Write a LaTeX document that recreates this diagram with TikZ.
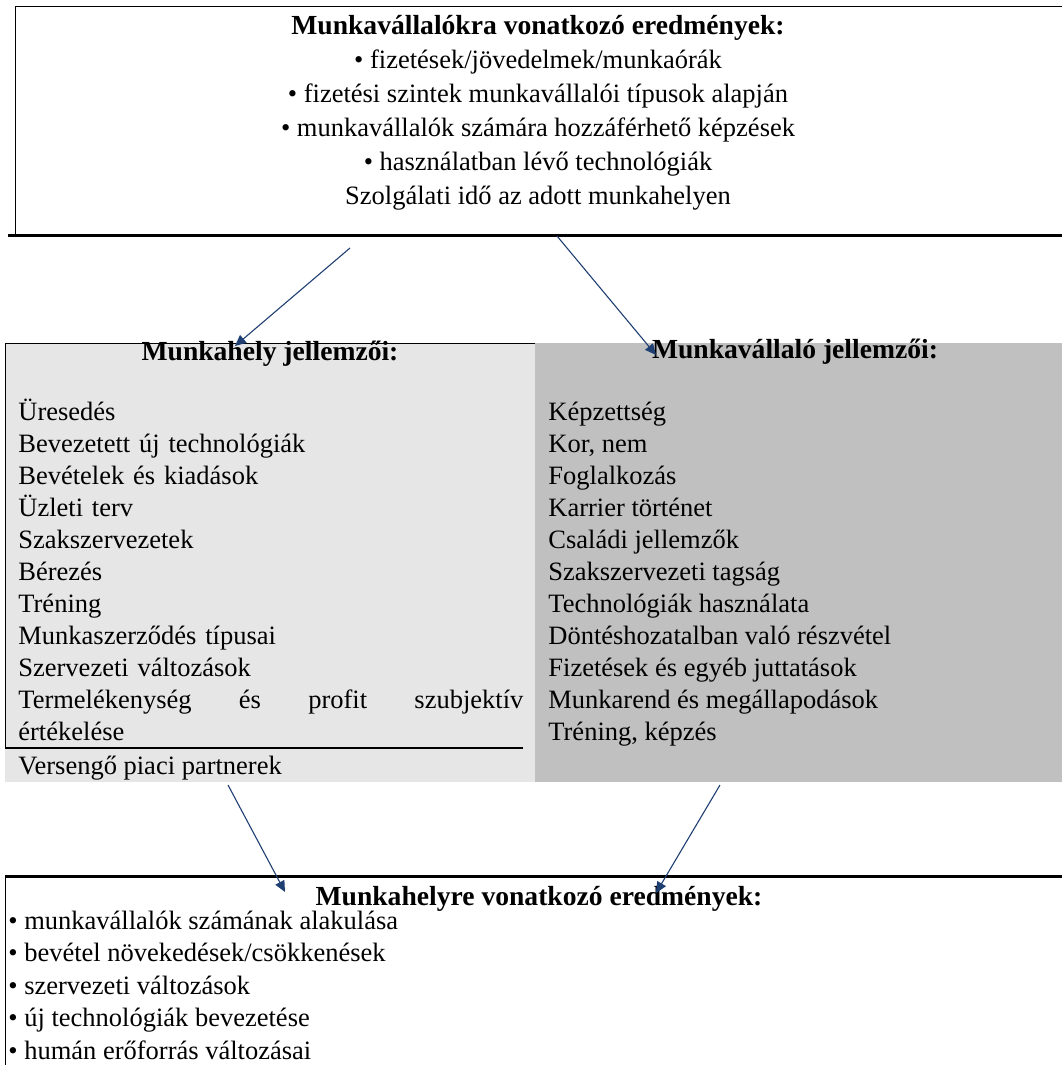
\documentclass[tikz,border=0pt]{standalone}
\usepackage{fontspec}
\setmainfont{Liberation Serif}
\usetikzlibrary{arrows.meta}
\definecolor{arrowblue}{HTML}{1F3F73}
\definecolor{lightbox}{HTML}{E6E6E6}
\definecolor{darkbox}{HTML}{C0C0C0}
\tikzset{
    txt/.style={inner sep=0pt,font=\fontsize{13.25}{16}\selectfont},
    head/.style={txt,font=\fontsize{13.8}{16}\selectfont\bfseries},
    link/.style={arrowblue,line width=0.55pt,-{Triangle[length=5.5pt,width=5pt]}},
}
\begin{document}
\begin{tikzpicture}[x=0.5pt,y=-0.5pt]
    \useasboundingbox (0,0) rectangle (1062,1065);
    \fill[lightbox] (5,343) rectangle (535,782);
    \fill[darkbox] (535,343) rectangle (1062,782);
    \draw[line width=0.5pt] (15,235) -- (15,7) -- (1062,7);
    \draw[line width=1.5pt] (8,235) -- (1062,235);
    \draw[line width=0.5pt] (5,748) -- (5,343) -- (535,343);
    \draw[line width=1pt] (5,748) -- (523,748);
    \draw[line width=1.5pt] (5,876) -- (1062,876);
    \draw[line width=0.5pt] (5,876) -- (5,1065);
    \node[head,anchor=base] (munkavallalok) at (538,35) {Munkavállalókra vonatkozó eredmények:};
    \node[txt,align=center,anchor=base,font=\fontsize{13.25}{17}\selectfont] (munkavallalokl) at (538,204)
        {• fizetések/jövedelmek/munkaórák\\
         • fizetési szintek munkavállalói típusok alapján\\
         • munkavállalók számára hozzáférhető képzések\\
         • használatban lévő technológiák\\
         Szolgálati idő az adott munkahelyen};
    \node[head,anchor=base] (munkahely) at (270,360) {Munkahely jellemzői:};
    \node[txt,anchor=base west,text width=252.5pt,align=left] (munkahelyl) at (18,420)
        {Üresedés\\
         Bevezetett új technológiák\\
         Bevételek és kiadások\\
         Üzleti terv\\
         Szakszervezetek\\
         Bérezés\\
         Tréning\\
         Munkaszerződés típusai\\
         Szervezeti változások\\
         Termelékenység\hfill és\hfill profit\hfill szubjektív\\
         értékelése};
    \node[txt,anchor=base west] (versengo) at (18,774) {Versengő piaci partnerek};
    \node[head,anchor=base] (munkavallalo) at (795,358) {Munkavállaló jellemzői:};
    \node[txt,anchor=base west,align=left] (munkavallalol) at (548,740)
        {Képzettség\\
         Kor, nem\\
         Foglalkozás\\
         Karrier történet\\
         Családi jellemzők\\
         Szakszervezeti tagság\\
         Technológiák használata\\
         Döntéshozatalban való részvétel\\
         Fizetések és egyéb juttatások\\
         Munkarend és megállapodások\\
         Tréning, képzés};
    \node[head,anchor=base] (munkahelyre) at (539,905) {Munkahelyre vonatkozó eredmények:};
    \node[txt,anchor=base west,align=left,font=\fontsize{13.25}{16.25}\selectfont] (munkahelyrel) at (8,1059)
        {• munkavállalók számának alakulása\\
         • bevétel növekedések/csökkenések\\
         • szervezeti változások\\
         • új technológiák bevezetése\\
         • humán erőforrás változásai};
    \coordinate (a1s) at (350,248);
    \coordinate (a1e) at (235,346);
    \coordinate (a2s) at (557,236);
    \coordinate (a2e) at (656,355);
    \coordinate (a3s) at (228,785);
    \coordinate (a3e) at (285,892);
    \coordinate (a4s) at (720,785);
    \coordinate (a4e) at (656,893);
    \draw[link] (a1s) -- (a1e);
    \draw[link] (a2s) -- (a2e);
    \draw[link] (a3s) -- (a3e);
    \draw[link] (a4s) -- (a4e);
\end{tikzpicture}
\end{document}
